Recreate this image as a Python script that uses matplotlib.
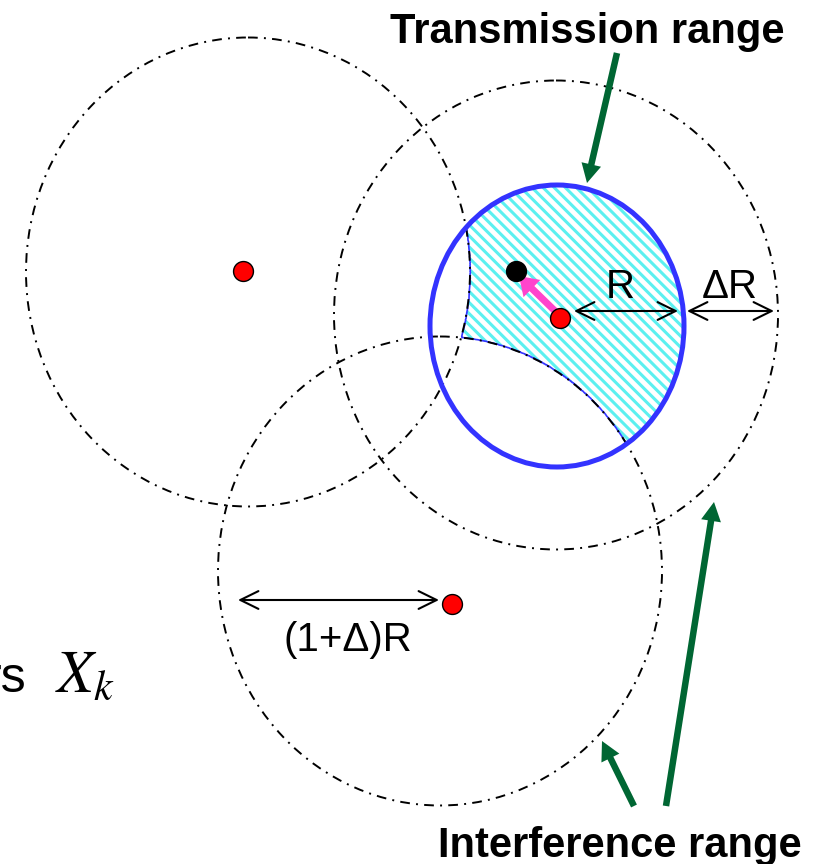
import numpy as np
import matplotlib
matplotlib.use('Agg')
import matplotlib.pyplot as plt
from matplotlib.patches import Ellipse, Polygon

plt.rcParams['font.family'] = ['Liberation Sans', 'DejaVu Sans']
plt.rcParams['mathtext.fontset'] = 'stix'
plt.rcParams['hatch.linewidth'] = 2.2

# diagram geometry, in picture pixels (origin top-left)
node_x = [243, 560, 452]
node_y = [271, 318, 604]
range_cx = [248, 556, 440]
range_cy = [272, 315, 571]
range_w = 444
range_h = 469
tx_center = (557, 326)
tx_w, tx_h = 254, 282
receiver = (516, 271)

W, H = 823, 864
fig = plt.figure(figsize=(W / 100, H / 100), dpi=100)
ax = fig.add_axes([0, 0, 1, 1])
ax.set_xlim(0, W)
ax.set_ylim(H, 0)
ax.set_aspect('auto')
ax.axis('off')


def in_ell(x, y, cx, cy, w, h):
    return ((x - cx) / (w / 2)) ** 2 + ((y - cy) / (h / 2)) ** 2 <= 1


# hatched region: inside transmission range, outside the two other interference ranges
px, py = 600, 300
ang = np.linspace(0, 2 * np.pi, 900, endpoint=False)
rr = np.arange(0, 220, 0.5)
X = px + np.outer(np.cos(ang), rr)
Y = py + np.outer(np.sin(ang), rr)
ok = in_ell(X, Y, *tx_center, tx_w, tx_h)
ok &= ~in_ell(X, Y, range_cx[0], range_cy[0], range_w, range_h)
ok &= ~in_ell(X, Y, range_cx[2], range_cy[2], range_w, range_h)
first_out = np.argmax(~ok, axis=1)
edge_r = rr[np.maximum(first_out - 1, 0)]
poly = np.column_stack([px + edge_r * np.cos(ang), py + edge_r * np.sin(ang)])
ax.add_patch(Polygon(poly, closed=True, facecolor='white', edgecolor='#5cf0f0',
                     hatch='\\\\\\', linewidth=0, zorder=1))
ax.add_patch(Polygon(poly, closed=True, fill=False, edgecolor='#3333ff',
                     linewidth=1.2, zorder=2))

# interference ranges
for cx, cy in zip(range_cx, range_cy):
    ax.add_patch(Ellipse((cx, cy), range_w, range_h, fill=False, edgecolor='black',
                         linewidth=1.4, linestyle=(0, (5.0, 3.2, 1.0, 3.2)), zorder=3))

# transmission range
ax.add_patch(Ellipse(tx_center, tx_w, tx_h, fill=False, edgecolor='#3333ff',
                     linewidth=3.6, zorder=4))

# nodes
ax.scatter(node_x, node_y, s=205, color='red', edgecolors='black', linewidths=1.0, zorder=6)
ax.scatter([receiver[0]], [receiver[1]], s=205, color='black', zorder=6)

# pink arrow toward receiver
ax.arrow(555, 311, -36, -35, width=7, head_width=24, head_length=18,
         length_includes_head=True, color='#ff44cc', linewidth=0, zorder=5)

# distance arrows
dist = dict(arrowstyle='<->,head_length=0.65,head_width=0.32', lw=1.5, color='black',
            shrinkA=0, shrinkB=0, mutation_scale=20)
ax.annotate('', xy=(678, 311), xytext=(574, 311), arrowprops=dist, zorder=5)
ax.annotate('', xy=(774, 311), xytext=(687, 311), arrowprops=dist, zorder=5)
ax.annotate('', xy=(439, 600), xytext=(238, 600), arrowprops=dist, zorder=5)

ax.text(620, 298, 'R', fontsize=29, ha='center', va='baseline', zorder=7)
ax.text(730, 298, 'ΔR', fontsize=29, ha='center', va='baseline', zorder=7)
ax.text(348, 651, '(1+Δ)R', fontsize=29, ha='center', va='baseline', zorder=7)

# green pointer arrows
green = '#006633'
for (x0, y0, x1, y1) in [(617, 53, 587, 183), (666, 806, 714, 502), (634, 806, 602, 741)]:
    ax.arrow(x0, y0, x1 - x0, y1 - y0, width=6.5, head_width=20, head_length=19,
             length_includes_head=True, color=green, linewidth=0, zorder=5)

ax.text(587, 43, 'Transmission range', fontsize=30, fontweight='bold',
        ha='center', va='baseline', zorder=7)
ax.text(620, 857, 'Interference range', fontsize=30, fontweight='bold',
        ha='center', va='baseline', zorder=7)

ax.text(26, 692, 'rs', fontsize=36, ha='right', va='baseline', zorder=7)
ax.text(55, 692, r'$X_k$', fontsize=43, ha='left', va='baseline', zorder=7)

fig.savefig('out.png', dpi=100)
